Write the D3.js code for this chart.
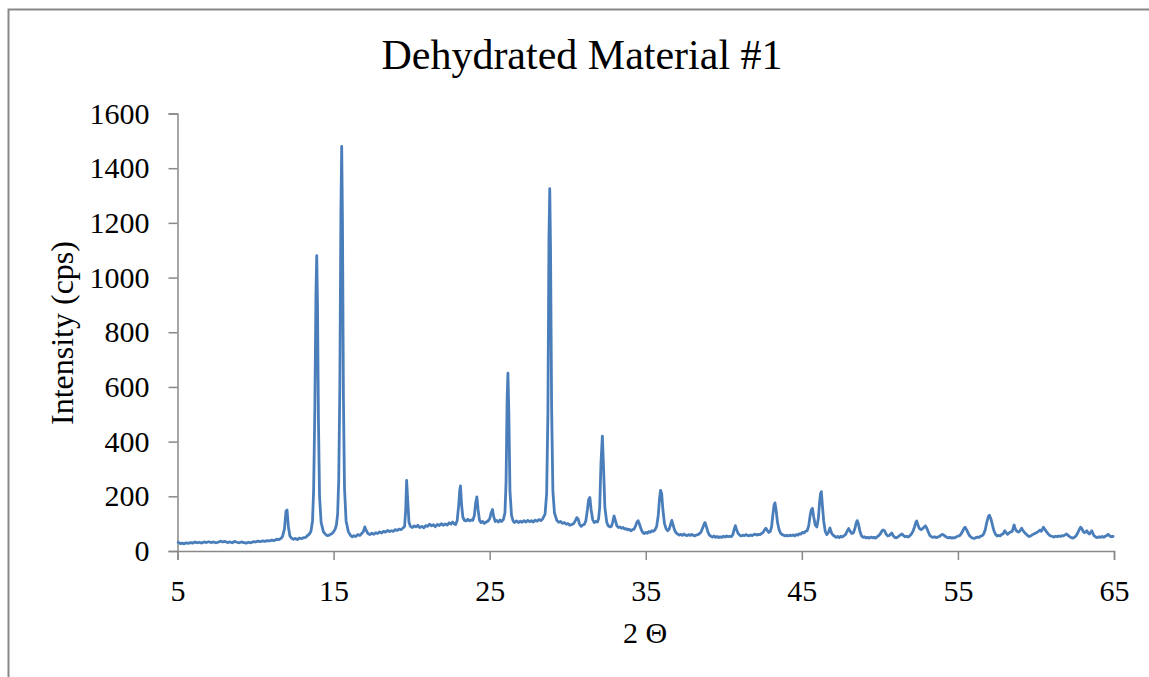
<!DOCTYPE html>
<html>
<head>
<meta charset="utf-8">
<script src="https://cdn.jsdelivr.net/npm/d3@7"></script>
<style>
  body { margin: 0; background: #fff; }
  text { font-family: "Times New Roman", "Liberation Serif", serif; fill: #000; }
</style>
</head>
<body>
<svg id="chart"></svg>
<script>
const chartTitle = "Dehydrated Material #1";
const xTitle = "2 Θ";
const yTitle = "Intensity (cps)";
const xTicks = [5, 15, 25, 35, 45, 55, 65];
const yTicks = [0, 200, 400, 600, 800, 1000, 1200, 1400, 1600];

// 2θ positions (deg), ten per row
const twoTheta = [
  5.0, 5.08, 5.2, 5.3, 5.42, 5.55, 5.7, 5.85, 6.0, 6.12,
  6.25, 6.4, 6.55, 6.7, 6.85, 7.0, 7.15, 7.3, 7.45, 7.6,
  7.75, 7.9, 8.05, 8.2, 8.35, 8.5, 8.65, 8.8, 8.95, 9.1,
  9.25, 9.4, 9.55, 9.7, 9.85, 10.0, 10.15, 10.3, 10.45, 10.6,
  10.75, 10.9, 11.05, 11.2, 11.35, 11.5, 11.62, 11.72, 11.85, 11.95,
  12.02, 12.1, 12.2, 12.3, 12.42, 12.55, 12.68, 12.8, 12.95, 13.1,
  13.22, 13.32, 13.45, 13.55, 13.65, 13.72, 13.8, 13.87, 13.92, 13.97,
  14.03, 14.1, 14.2, 14.35, 14.5, 14.62, 14.75, 14.88, 15.0, 15.1,
  15.18, 15.26, 15.33, 15.4, 15.47, 15.52, 15.57, 15.63, 15.7, 15.8,
  15.95, 16.1, 16.2, 16.3, 16.42, 16.55, 16.68, 16.8, 16.9, 17.0,
  17.1, 17.2, 17.32, 17.45, 17.58, 17.7, 17.82, 17.95, 18.08, 18.2,
  18.32, 18.45, 18.58, 18.7, 18.82, 18.95, 19.08, 19.2, 19.32, 19.45,
  19.55, 19.62, 19.68, 19.75, 19.83, 19.92, 20.05, 20.15, 20.28, 20.4,
  20.52, 20.65, 20.78, 20.9, 21.02, 21.15, 21.28, 21.4, 21.52, 21.65,
  21.78, 21.9, 22.02, 22.15, 22.28, 22.4, 22.52, 22.62, 22.72, 22.82,
  22.92, 23.02, 23.08, 23.13, 23.2, 23.28, 23.38, 23.5, 23.6, 23.72,
  23.82, 23.92, 24.02, 24.1, 24.18, 24.26, 24.35, 24.45, 24.55, 24.65,
  24.78, 24.9, 25.0, 25.1, 25.18, 25.26, 25.36, 25.46, 25.56, 25.66,
  25.76, 25.88, 25.98, 26.05, 26.12, 26.17, 26.23, 26.3, 26.4, 26.5,
  26.6, 26.72, 26.84, 26.96, 27.08, 27.2, 27.32, 27.44, 27.56, 27.68,
  27.8, 27.92, 28.04, 28.16, 28.28, 28.4, 28.55, 28.65, 28.73, 28.8,
  28.85, 28.9, 28.97, 29.05, 29.15, 29.3, 29.42, 29.54, 29.66, 29.78,
  29.9, 30.02, 30.14, 30.26, 30.38, 30.5, 30.58, 30.66, 30.76, 30.86,
  30.96, 31.06, 31.16, 31.26, 31.34, 31.42, 31.5, 31.6, 31.7, 31.8,
  31.9, 31.98, 32.05, 32.13, 32.22, 32.3, 32.38, 32.5, 32.6, 32.7,
  32.8, 32.88, 32.97, 33.06, 33.15, 33.25, 33.35, 33.45, 33.55, 33.65,
  33.75, 33.85, 33.95, 34.05, 34.15, 34.25, 34.35, 34.44, 34.51, 34.6,
  34.7, 34.8, 34.9, 35.0, 35.1, 35.2, 35.3, 35.4, 35.5, 35.6,
  35.7, 35.8, 35.88, 35.95, 36.02, 36.1, 36.2, 36.3, 36.4, 36.5,
  36.58, 36.67, 36.75, 36.85, 36.95, 37.05, 37.15, 37.25, 37.35, 37.45,
  37.55, 37.65, 37.75, 37.85, 37.95, 38.05, 38.15, 38.25, 38.35, 38.45,
  38.55, 38.65, 38.75, 38.8, 38.88, 38.98, 39.08, 39.18, 39.28, 39.38,
  39.48, 39.58, 39.68, 39.78, 39.88, 39.98, 40.08, 40.18, 40.28, 40.38,
  40.48, 40.58, 40.66, 40.74, 40.82, 40.92, 41.02, 41.12, 41.22, 41.32,
  41.42, 41.52, 41.62, 41.72, 41.82, 41.92, 42.02, 42.12, 42.22, 42.32,
  42.42, 42.52, 42.62, 42.7, 42.78, 42.88, 42.98, 43.06, 43.14, 43.22,
  43.28, 43.35, 43.44, 43.54, 43.64, 43.74, 43.84, 43.94, 44.04, 44.14,
  44.24, 44.34, 44.44, 44.54, 44.64, 44.74, 44.84, 44.94, 45.04, 45.14,
  45.24, 45.34, 45.44, 45.52, 45.6, 45.68, 45.76, 45.86, 45.96, 46.06,
  46.14, 46.2, 46.25, 46.32, 46.4, 46.5, 46.6, 46.7, 46.8, 46.9,
  47.0, 47.1, 47.2, 47.3, 47.4, 47.5, 47.6, 47.7, 47.8, 47.9,
  48.0, 48.1, 48.2, 48.3, 48.4, 48.48, 48.55, 48.63, 48.72, 48.82,
  48.92, 49.02, 49.12, 49.22, 49.32, 49.42, 49.52, 49.62, 49.72, 49.82,
  49.92, 50.02, 50.12, 50.2, 50.3, 50.4, 50.5, 50.6, 50.7, 50.76,
  50.85, 50.95, 51.05, 51.15, 51.25, 51.35, 51.42, 51.52, 51.62, 51.72,
  51.82, 51.92, 52.02, 52.12, 52.22, 52.3, 52.36, 52.44, 52.54, 52.64,
  52.74, 52.84, 52.92, 53.0, 53.1, 53.2, 53.3, 53.4, 53.5, 53.6,
  53.7, 53.8, 53.9, 54.0, 54.1, 54.2, 54.3, 54.4, 54.5, 54.6,
  54.7, 54.8, 54.9, 55.0, 55.1, 55.2, 55.3, 55.4, 55.46, 55.55,
  55.65, 55.75, 55.85, 55.95, 56.05, 56.15, 56.25, 56.35, 56.45, 56.55,
  56.65, 56.75, 56.85, 56.95, 57.02, 57.1, 57.2, 57.3, 57.4, 57.5,
  57.6, 57.7, 57.8, 57.9, 58.0, 58.08, 58.18, 58.28, 58.38, 58.48,
  58.54, 58.6, 58.68, 58.78, 58.88, 58.98, 59.08, 59.16, 59.26, 59.36,
  59.46, 59.56, 59.66, 59.76, 59.86, 59.96, 60.06, 60.16, 60.26, 60.34,
  60.42, 60.48, 60.56, 60.66, 60.76, 60.86, 60.96, 61.06, 61.16, 61.26,
  61.36, 61.46, 61.56, 61.66, 61.76, 61.86, 61.96, 62.06, 62.16, 62.26,
  62.36, 62.46, 62.56, 62.66, 62.76, 62.86, 62.94, 63.02, 63.1, 63.18,
  63.26, 63.34, 63.42, 63.5, 63.58, 63.66, 63.74, 63.84, 63.94, 64.04,
  64.14, 64.24, 64.34, 64.44, 64.54, 64.63, 64.72, 64.82, 64.92, 65.0
];

// intensity (cps), same rows as twoTheta
const intensity = [
  35, 30, 27, 29, 26, 30, 28, 31, 29, 33,
  30, 32, 29, 33, 31, 34, 31, 33, 30, 32,
  36, 33, 35, 31, 33, 30, 35, 32, 30, 33,
  31, 29, 32, 30, 34, 33, 36, 34, 37, 35,
  38, 37, 40, 38, 43, 42, 46, 52, 80, 145,
  150, 90, 55, 47, 43, 46, 42, 47, 45, 49,
  50, 56, 62, 72, 110, 220, 520, 940, 1080, 900,
  480, 200, 105, 70, 60, 56, 59, 63, 70, 80,
  95, 135, 260, 600, 1250, 1480, 1200, 560, 230, 110,
  70, 56, 52, 56, 53, 60, 57, 64, 70, 88,
  74, 64, 60, 65, 61, 67, 64, 70, 66, 72,
  69, 75, 71, 74, 72, 78, 75, 80, 78, 84,
  90, 150, 258, 185, 105, 90, 86, 92, 88, 94,
  86, 90, 85, 93, 90, 98, 92, 96, 89, 97,
  93, 100, 94, 99, 95, 103, 98, 106, 100, 97,
  112, 170, 220, 238, 170, 125, 112, 110, 116, 110,
  114, 112, 130, 175, 198, 150, 112, 104, 108, 101,
  106, 110, 118, 140, 152, 125, 108, 112, 106, 113,
  108, 115, 140, 250, 560, 650, 500, 220, 130, 110,
  104, 110, 104, 109, 105, 111, 106, 112, 107, 111,
  106, 113, 109, 115, 111, 118, 135, 210, 500, 1150,
  1325, 1100, 520, 220, 140, 112, 105, 108, 101, 104,
  98, 100, 94, 97, 100, 112, 122, 118, 98, 90,
  95, 97, 110, 150, 188, 196, 150, 115, 104, 108,
  106, 118, 160, 320, 420, 300, 160, 105, 92, 88,
  90, 105, 128, 110, 92, 86, 88, 83, 86, 80,
  82, 77, 79, 74, 78, 80, 92, 106, 111, 98,
  80, 68, 64, 68, 65, 71, 68, 74, 72, 78,
  90, 130, 190, 222, 210, 150, 100, 82, 74, 80,
  95, 112, 95, 76, 66, 62, 58, 61, 57, 62,
  58, 56, 60, 57, 61, 57, 55, 59, 60, 64,
  70, 85, 100, 104, 90, 70, 58, 54, 51, 55,
  50, 53, 49, 52, 50, 54, 51, 55, 52, 54,
  52, 60, 78, 93, 78, 64, 58, 55, 58, 56,
  60, 57, 55, 59, 56, 60, 62, 58, 61, 60,
  64, 68, 78, 83, 76, 68, 72, 88, 130, 168,
  176, 150, 105, 78, 65, 60, 58, 55, 58, 55,
  58, 56, 59, 55, 60, 58, 63, 62, 68, 66,
  72, 74, 92, 125, 150, 156, 125, 95, 88, 120,
  180, 210, 217, 165, 110, 72, 60, 68, 84, 66,
  58, 54, 50, 53, 49, 54, 51, 56, 60, 72,
  82, 72, 64, 66, 82, 102, 111, 98, 72, 56,
  50, 52, 48, 50, 47, 51, 48, 50, 47, 52,
  56, 62, 72, 77, 74, 62, 55, 56, 63, 66,
  56, 50, 48, 51, 56, 60, 62, 56, 52, 54,
  51, 56, 62, 72, 88, 104, 110, 95, 82, 78,
  82, 88, 92, 84, 70, 57, 52, 50, 52, 49,
  51, 53, 57, 61, 58, 53, 50, 48, 50, 47,
  49, 48, 52, 54, 56, 62, 72, 84, 87, 78,
  66, 56, 50, 47, 46, 49, 51, 50, 54, 56,
  62, 78, 105, 126, 131, 120, 98, 75, 62, 55,
  57, 55, 60, 63, 74, 68, 61, 66, 70, 72,
  84, 95, 80, 72, 69, 74, 83, 76, 68, 62,
  57, 53, 55, 59, 62, 65, 68, 72, 77, 72,
  80, 87, 80, 72, 64, 58, 55, 53, 51, 54,
  52, 55, 53, 56, 55, 59, 62, 57, 52, 49,
  47, 50, 55, 64, 77, 87, 82, 72, 67, 70,
  74, 66, 62, 68, 74, 62, 55, 51, 49, 52,
  50, 53, 50, 54, 57, 61, 55, 52, 54, 51
];

const width = 1149;
const height = 677;
const margin = { top: 113.5, right: 35, bottom: 126, left: 177.5 };
const axisColor = "#898989";

const svg = d3.select("#chart")
  .attr("width", width)
  .attr("height", height);

// outer chart frame (runs off the right and bottom edge)
svg.append("rect")
  .attr("x", 8.5).attr("y", 9.5)
  .attr("width", width + 20).attr("height", height + 20)
  .attr("fill", "none")
  .attr("stroke", "#888")
  .attr("stroke-width", 2);

const x = d3.scaleLinear().domain([5, 65]).range([margin.left, width - margin.right]);
const y = d3.scaleLinear().domain([0, 1600]).range([height - margin.bottom, margin.top]);

const xAxis = svg.append("g")
  .attr("transform", `translate(0,${y(0)})`)
  .call(d3.axisBottom(x).tickValues(xTicks).tickSize(9).tickPadding(12).tickFormat(d3.format("d")));

const yAxis = svg.append("g")
  .attr("transform", `translate(${x(5)},0)`)
  .call(d3.axisLeft(y).tickValues(yTicks).tickSize(9).tickPadding(19).tickFormat(d3.format("d")));

[xAxis, yAxis].forEach(a => {
  a.select(".domain").attr("stroke", axisColor).attr("stroke-width", 1.5);
  a.selectAll(".tick line").attr("stroke", axisColor).attr("stroke-width", 1.5);
  a.selectAll(".tick text")
    .attr("fill", "#000")
    .style("font-family", '"Times New Roman", "Liberation Serif", serif')
    .style("font-size", "30px");
});
xAxis.selectAll(".tick text").attr("dy", "0.95em");

const n = Math.min(twoTheta.length, intensity.length);
const line = d3.line()
  .x(i => x(twoTheta[i]))
  .y(i => y(intensity[i]));

svg.append("path")
  .datum(d3.range(n))
  .attr("fill", "none")
  .attr("stroke", "#4A7EBB")
  .attr("stroke-width", 2.8)
  .attr("stroke-linejoin", "round")
  .attr("d", line);

svg.append("text")
  .attr("x", 582).attr("y", 69)
  .attr("text-anchor", "middle")
  .style("font-size", "42px")
  .text(chartTitle);

svg.append("text")
  .attr("x", 645).attr("y", 643)
  .attr("text-anchor", "middle")
  .style("font-size", "30px")
  .text(xTitle);

svg.append("text")
  .attr("transform", "translate(73,333) rotate(-90)")
  .attr("text-anchor", "middle")
  .style("font-size", "32px")
  .text(yTitle);
</script>
</body>
</html>
